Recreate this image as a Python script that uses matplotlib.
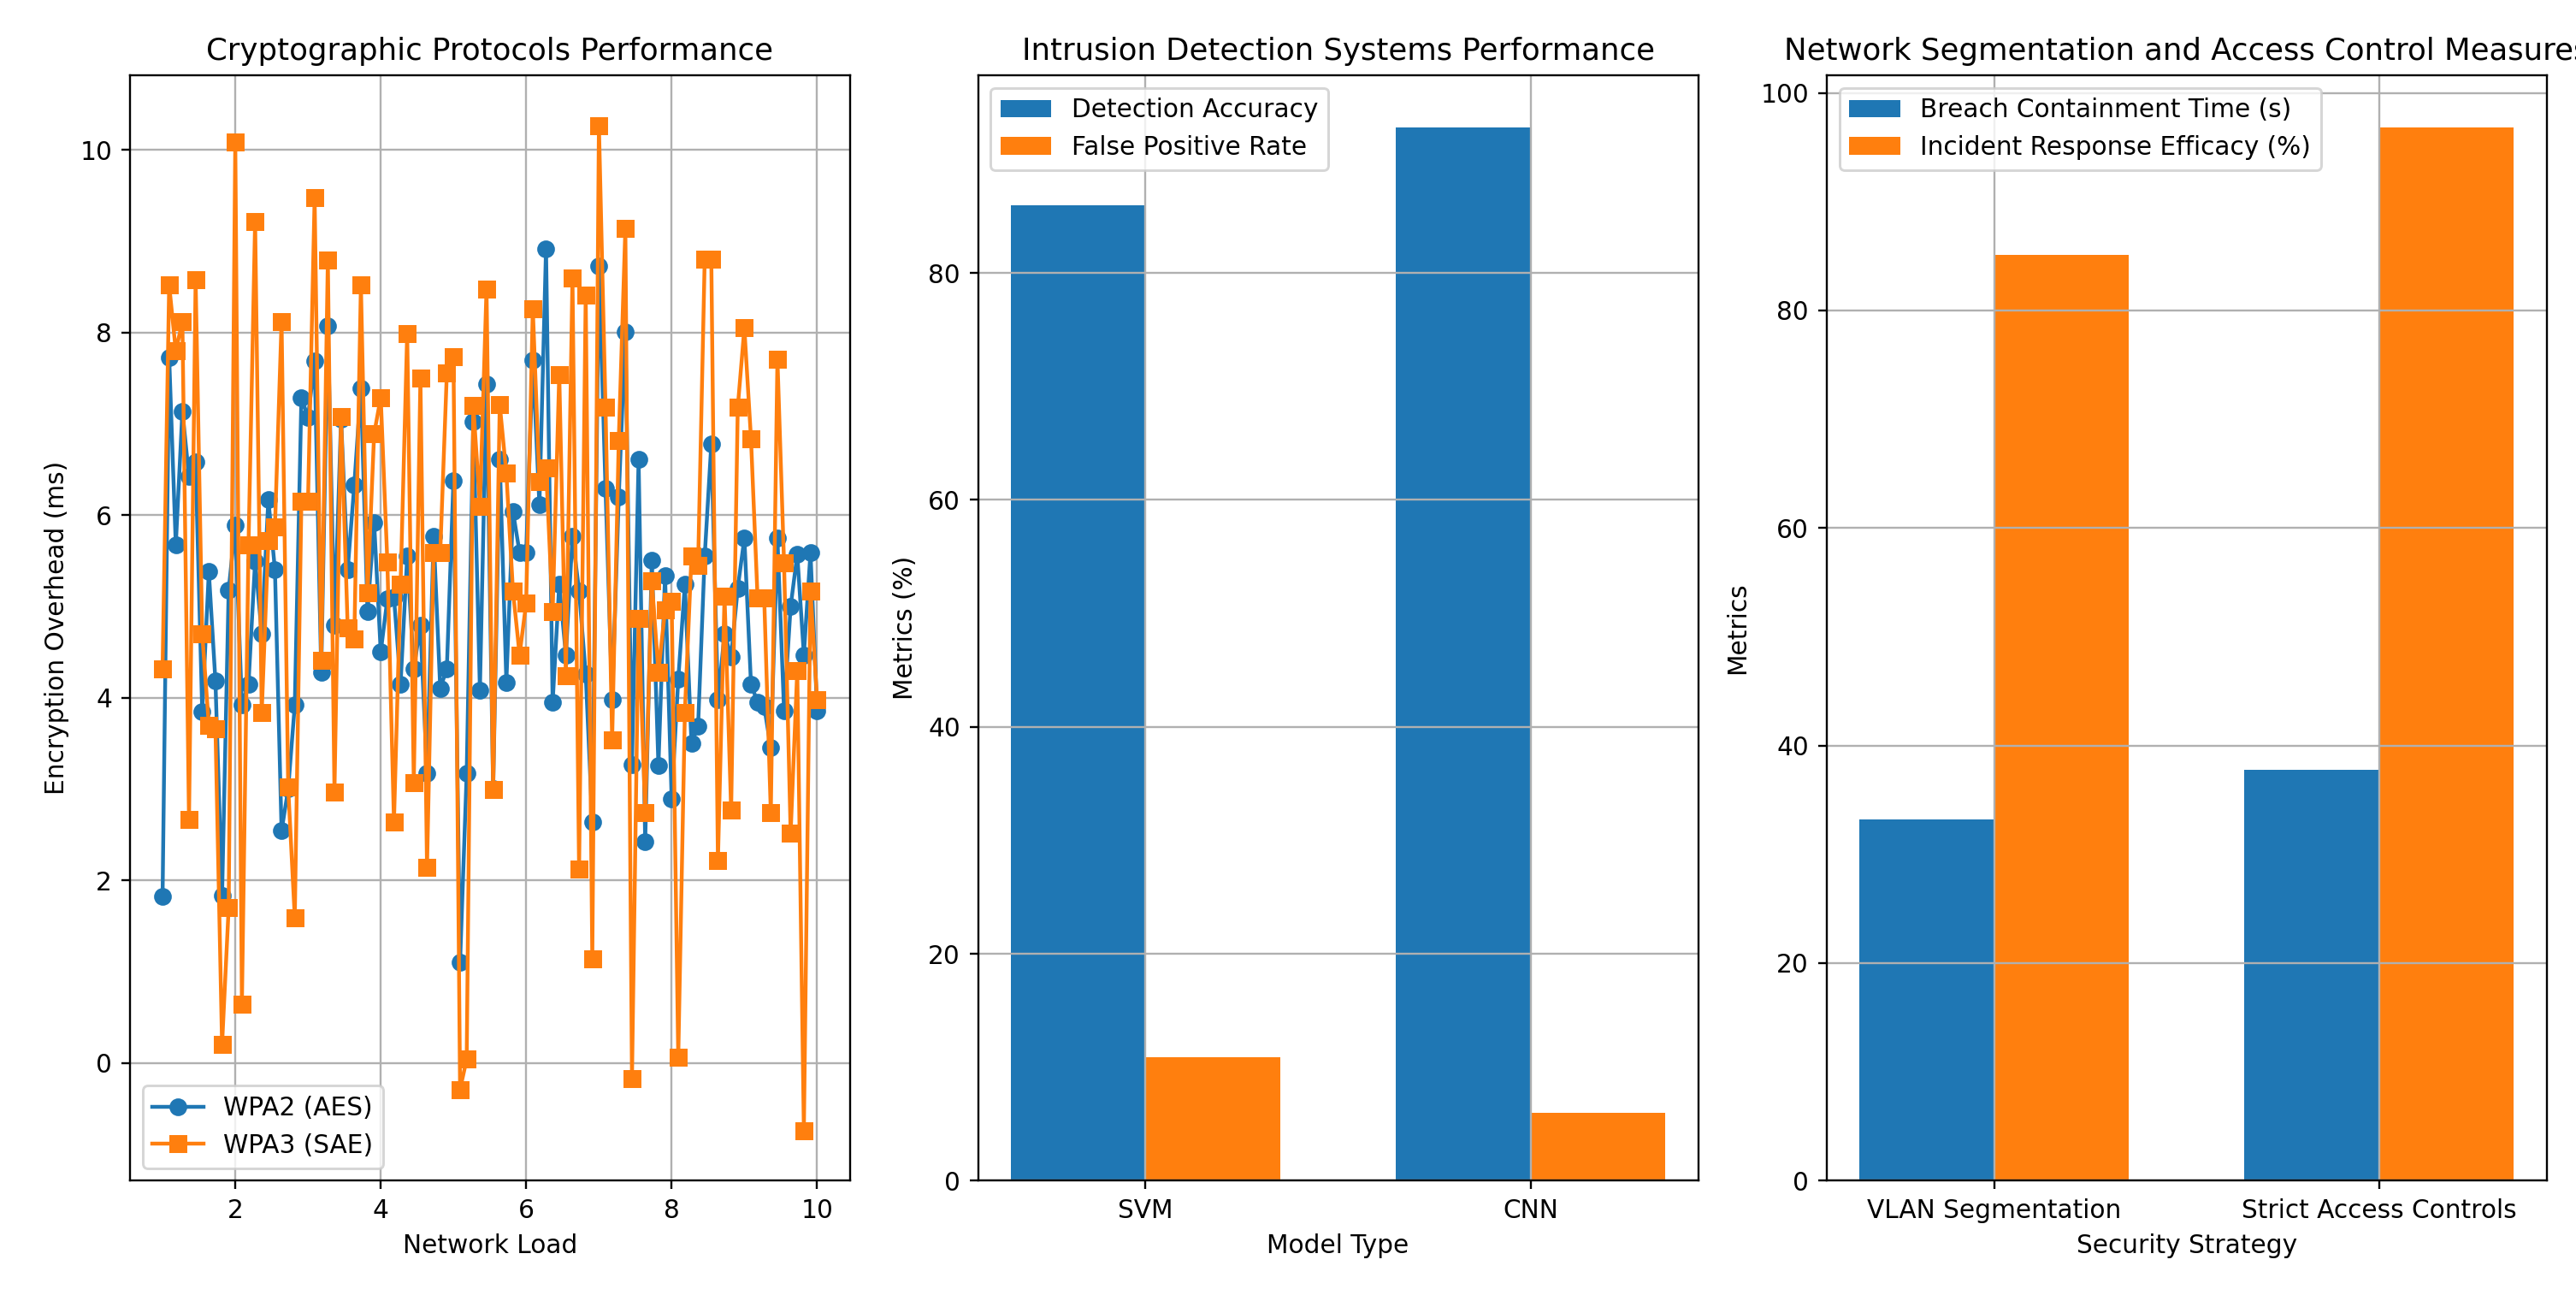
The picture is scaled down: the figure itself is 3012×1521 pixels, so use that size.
import numpy as np
import matplotlib
matplotlib.use("Agg")
import matplotlib.pyplot as plt

# ---- data ----
network_load = np.linspace(1, 10, 100)

wpa2_aes = [1.82, 7.73, 5.67, 7.14, 6.42, 6.58, 3.85, 5.38, 4.18, 1.83, 5.18, 5.89,
            3.92, 4.15, 5.5, 4.7, 6.17, 5.4, 2.54, 3.0, 3.92, 7.29, 7.07,
            7.69, 4.28, 8.07, 4.79, 7.05, 5.4, 6.33, 7.39, 4.94, 5.92, 4.5,
            5.08, 5.1, 4.15, 5.55, 4.32, 4.79, 3.17, 5.77, 4.1, 4.32, 6.38, 1.1,
            3.17, 7.02, 4.08, 7.44, 3.0, 6.61, 4.17, 6.04, 5.59, 5.59, 7.7,
            6.11, 8.92, 3.95, 5.24, 4.47, 5.77, 5.17, 4.26, 2.64, 8.73, 6.29, 3.98, 6.2, 8.01, 3.27,
            6.61, 2.42, 5.51, 3.26, 5.34,
            2.89, 4.2, 5.24, 3.5, 3.69, 5.55, 6.78, 3.98, 4.7, 4.45, 5.2, 5.75, 4.15, 3.95, 3.9,
            3.45, 5.75, 3.86, 5.0, 5.57, 4.47, 5.59, 3.86]

wpa3_sae = [4.32, 8.52, 7.8, 8.12, 2.67, 8.58, 4.7, 3.7, 3.66, 0.2, 1.7, 10.09,
            0.64, 5.67, 9.22, 3.84, 5.72, 5.87, 8.12, 3.02, 1.59, 6.15, 6.15,
            9.48, 4.41, 8.79, 2.97, 7.08, 4.77, 4.64, 8.52, 5.15, 6.89, 7.29,
            5.49, 2.64, 5.24, 7.99, 3.07, 7.5, 2.14, 5.59, 5.59, 7.56, 7.74, -0.29,
            0.04, 7.2, 6.1, 8.48, 2.99, 7.21, 6.46, 5.17, 4.47, 5.04, 8.26,
            6.37, 6.52, 4.94, 7.54, 4.24, 8.6, 2.12, 8.41, 1.14, 10.27, 7.18, 3.54, 6.82, 9.14, -0.17,
            4.87, 2.74, 5.28, 4.28, 4.96,
            5.06, 0.06, 3.84, 5.55, 5.45, 8.8, 8.8, 2.22, 5.11, 2.77, 7.18, 8.05, 6.84, 5.09, 5.09,
            2.74, 7.71, 5.48, 2.52, 4.3, -0.74, 5.17, 3.98]

ids_models = ["SVM", "CNN"]
detection_accuracy = [86.0, 92.8]
false_positive_rate = [10.9, 6.0]

strategies = ["VLAN Segmentation", "Strict Access Controls"]
breach_containment = [33.2, 37.8]
response_efficacy = [85.1, 96.8]

# ---- figure ----
DPI = 213
fig = plt.figure(figsize=(3012 / DPI, 1521 / DPI), dpi=DPI)
aw, bottom, ah = 0.2795, 0.0925, 0.8498
ax1 = fig.add_axes([0.0504, bottom, aw, ah])
ax2 = fig.add_axes([0.3797, bottom, aw, ah])
ax3 = fig.add_axes([0.7091, bottom, aw, ah])

ax1.plot(network_load, wpa2_aes, marker='o', label='WPA2 (AES)')
ax1.plot(network_load, wpa3_sae, marker='s', label='WPA3 (SAE)')
ax1.set_title('Cryptographic Protocols Performance')
ax1.set_xlabel('Network Load')
ax1.set_ylabel('Encryption Overhead (ms)')
ax1.legend(loc='lower left')
ax1.grid(True)

w = 0.35
x = np.arange(len(ids_models))
ax2.bar(x - w / 2, detection_accuracy, w, label='Detection Accuracy')
ax2.bar(x + w / 2, false_positive_rate, w, label='False Positive Rate')
ax2.set_xticks(x)
ax2.set_xticklabels(ids_models)
ax2.set_title('Intrusion Detection Systems Performance')
ax2.set_xlabel('Model Type')
ax2.set_ylabel('Metrics (%)')
ax2.legend(loc='upper left')
ax2.grid(True)

x3 = np.arange(len(strategies))
ax3.bar(x3 - w / 2, breach_containment, w, label='Breach Containment Time (s)')
ax3.bar(x3 + w / 2, response_efficacy, w, label='Incident Response Efficacy (%)')
ax3.set_xticks(x3)
ax3.set_xticklabels(strategies)
ax3.set_title('Network Segmentation and Access Control Measures')
ax3.set_xlabel('Security Strategy')
ax3.set_ylabel('Metrics')
ax3.legend(loc='upper left')
ax3.grid(True)

fig.savefig('out.png', dpi=DPI)
